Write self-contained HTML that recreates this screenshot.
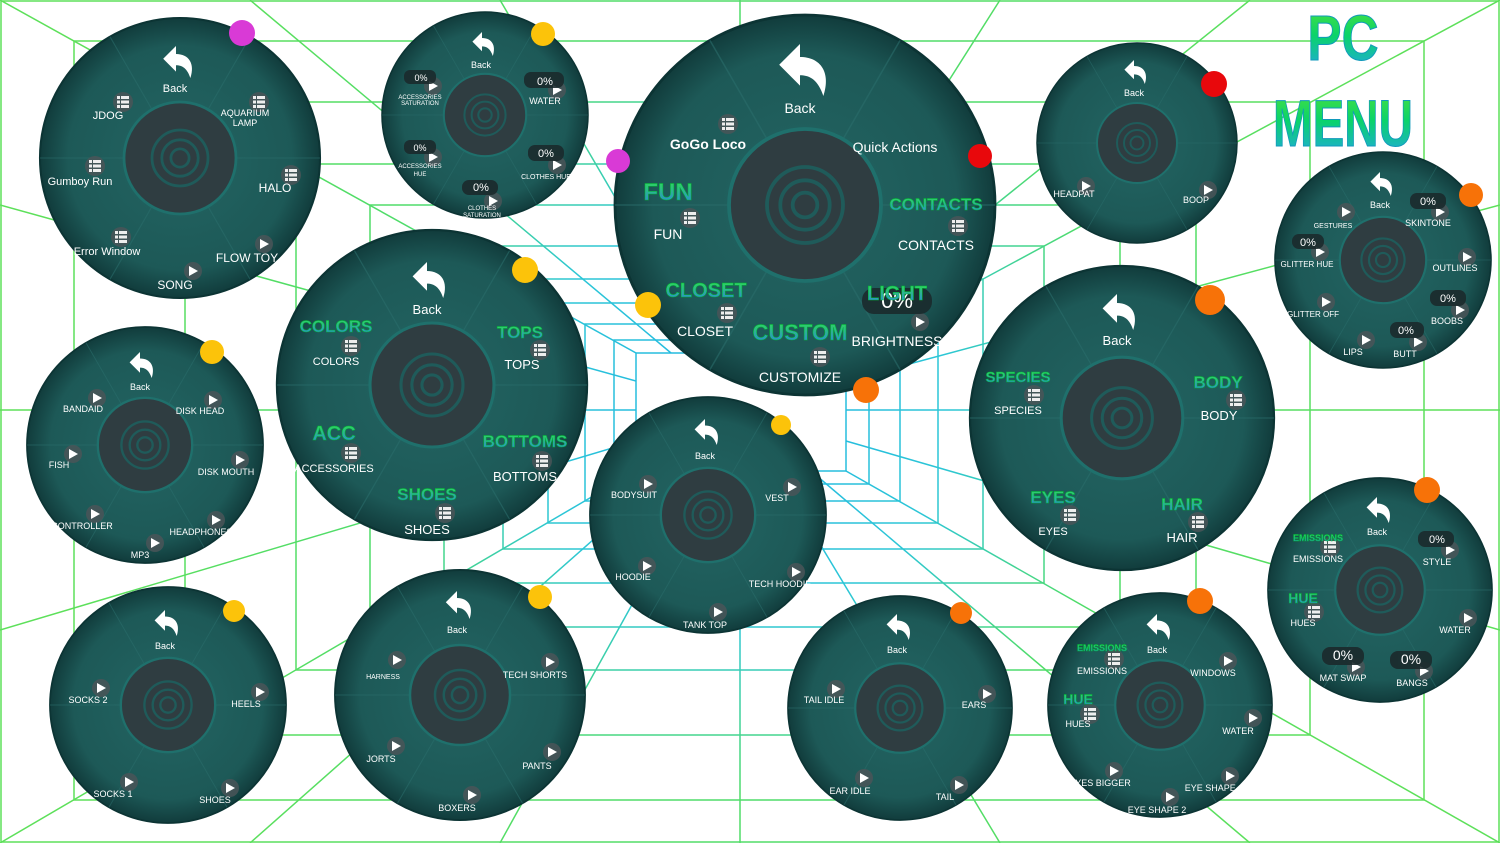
<!DOCTYPE html>
<html><head><meta charset="utf-8"><style>
html,body{margin:0;padding:0;background:#fff;}
svg{display:block;}
text{font-family:"Liberation Sans",sans-serif;fill:#fff;text-anchor:middle;}
.s{font-size:9px;}
.m{font-size:11px;}
.l{font-size:14px;}
.t{font-size:17px;font-weight:bold;fill:url(#tg);stroke:#0b3;stroke-width:.5;}
.gl line,.gl rect{stroke:url(#gg);stroke-width:1.5;fill:none;}
</style></head><body>
<svg width="1500" height="843" viewBox="0 0 1500 843" xmlns="http://www.w3.org/2000/svg">
<defs>
<radialGradient id="gg" gradientUnits="userSpaceOnUse" cx="740" cy="410" r="700">
<stop offset="0" stop-color="#1fb4e6"/><stop offset="0.3" stop-color="#2cc6d6"/><stop offset="0.55" stop-color="#4fdc6a"/><stop offset="1" stop-color="#5de05a"/>
</radialGradient>
<radialGradient id="og" cx="50%" cy="50%" r="50%">
<stop offset="0" stop-color="#236563"/><stop offset="0.8" stop-color="#1d5957"/><stop offset="1" stop-color="#113c3c"/>
</radialGradient>
<linearGradient id="tg" x1="0" y1="0" x2="0" y2="1"><stop offset="0" stop-color="#2ee04a"/><stop offset="1" stop-color="#2a7fe8"/></linearGradient>
<linearGradient id="pg" x1="0" y1="0" x2="0" y2="1"><stop offset="0" stop-color="#4ee23a"/><stop offset="0.45" stop-color="#0ad36a"/><stop offset="1" stop-color="#22a5ea"/></linearGradient>
<g id="w">
<circle r="1" fill="url(#og)" stroke="#0c3434" stroke-width="0.015"/>
<g stroke="#2a6d6b" stroke-width="0.008" opacity=".6">
<line x1="0" y1="-0.4" x2="0" y2="-1" transform="rotate(30)"/>
<line x1="0" y1="-0.4" x2="0" y2="-1" transform="rotate(-30)"/>
<line x1="0" y1="-0.4" x2="0" y2="-1" transform="rotate(90)"/>
<line x1="0" y1="-0.4" x2="0" y2="-1" transform="rotate(-90)"/>
<line x1="0" y1="-0.4" x2="0" y2="-1" transform="rotate(150)"/>
<line x1="0" y1="-0.4" x2="0" y2="-1" transform="rotate(-150)"/>
</g>
<circle r="0.4" fill="#2f3d41" stroke="#1f706c" stroke-width="0.02"/>
<g fill="none" stroke="#1f5b5a" stroke-width="0.02">
<circle r="0.2"/><circle r="0.13"/><circle r="0.065"/>
</g>
</g>
<g id="ic"><rect x="-9" y="-9" width="18" height="18" rx="9" fill="#4a5558" opacity=".85"/><path d="M-4,-5 L5,0 L-4,5Z" fill="#fff"/></g>
<g id="li"><rect x="-10" y="-10" width="20" height="20" rx="10" fill="#4a5558" opacity=".85"/><g fill="#eee"><rect x="-6" y="-6" width="3" height="3"/><rect x="-2" y="-6" width="8" height="3"/><rect x="-6" y="-1.5" width="3" height="3"/><rect x="-2" y="-1.5" width="8" height="3"/><rect x="-6" y="3" width="3" height="3"/><rect x="-2" y="3" width="8" height="3"/></g></g>
<g id="bk"><path d="M-8,-2 L0,-10 L0,-5 C8,-5 12,1 9,10 C7,4 4,2 0,2 L0,6Z" fill="#fff"/></g>
</defs>

<g class="gl">
<rect x="1" y="1" width="1498" height="841"/>
<rect x="74" y="41" width="1350" height="759"/>
<rect x="185" y="102" width="1125" height="633"/>
<rect x="296" y="164" width="900" height="506"/>
<rect x="370" y="205" width="750" height="422"/>
<rect x="444" y="246" width="600" height="337"/>
<rect x="503" y="279" width="480" height="270"/>
<rect x="548" y="303" width="390" height="220"/>
<rect x="585" y="324" width="315" height="177"/>
<rect x="614" y="340" width="255" height="144"/>
<rect x="636" y="353" width="210" height="118"/>
<line x1="0" y1="0" x2="636" y2="353"/><line x1="250" y1="0" x2="671" y2="353"/><line x1="500" y1="0" x2="706" y2="353"/>
<line x1="740" y1="0" x2="740" y2="353"/><line x1="1000" y1="0" x2="776" y2="353"/><line x1="1250" y1="0" x2="811" y2="353"/><line x1="1500" y1="0" x2="846" y2="353"/>
<line x1="0" y1="843" x2="636" y2="471"/><line x1="250" y1="843" x2="671" y2="471"/><line x1="500" y1="843" x2="706" y2="471"/>
<line x1="740" y1="843" x2="740" y2="471"/><line x1="1000" y1="843" x2="776" y2="471"/><line x1="1250" y1="843" x2="811" y2="471"/><line x1="1500" y1="843" x2="846" y2="471"/>
<line x1="0" y1="205" x2="636" y2="381"/><line x1="0" y1="410" x2="636" y2="410"/><line x1="0" y1="630" x2="636" y2="441"/>
<line x1="1500" y1="205" x2="846" y2="381"/><line x1="1500" y1="410" x2="846" y2="410"/><line x1="1500" y1="630" x2="846" y2="441"/>
</g>

<use href="#w" transform="translate(180,158) scale(140)"/>
<use href="#w" transform="translate(485,115) scale(103)"/>
<use href="#w" transform="translate(805,205) scale(190)"/>
<use href="#w" transform="translate(1137,143) scale(100)"/>
<use href="#w" transform="translate(1383,260) scale(108)"/>
<use href="#w" transform="translate(145,445) scale(118)"/>
<use href="#w" transform="translate(432,385) scale(155)"/>
<use href="#w" transform="translate(708,515) scale(118)"/>
<use href="#w" transform="translate(1122,418) scale(152)"/>
<use href="#w" transform="translate(1380,590) scale(112)"/>
<use href="#w" transform="translate(168,705) scale(118)"/>
<use href="#w" transform="translate(460,695) scale(125)"/>
<use href="#w" transform="translate(900,708) scale(112)"/>
<use href="#w" transform="translate(1160,705) scale(112)"/>

<use href="#bk" transform="translate(176,62) scale(1.6)"/>
<use href="#bk" transform="translate(482,44) scale(1.2)"/>
<use href="#bk" transform="translate(800,70) scale(2.6)"/>
<use href="#bk" transform="translate(1134,72) scale(1.2)"/>
<use href="#bk" transform="translate(1380,184) scale(1.2)"/>
<use href="#bk" transform="translate(140,365) scale(1.3)"/>
<use href="#bk" transform="translate(427,280) scale(1.8)"/>
<use href="#bk" transform="translate(705,432) scale(1.3)"/>
<use href="#bk" transform="translate(1117,312) scale(1.8)"/>
<use href="#bk" transform="translate(1377,510) scale(1.3)"/>
<use href="#bk" transform="translate(165,623) scale(1.3)"/>
<use href="#bk" transform="translate(457,605) scale(1.4)"/>
<use href="#bk" transform="translate(897,627) scale(1.3)"/>
<use href="#bk" transform="translate(1157,627) scale(1.3)"/>

<g>
<use href="#li" x="123" y="102"/><use href="#li" x="259" y="102"/><use href="#li" x="95" y="166"/><use href="#li" x="291" y="175"/><use href="#li" x="121" y="237"/><use href="#ic" x="264" y="244"/><use href="#ic" x="193" y="271"/>
<use href="#li" x="728" y="124"/><use href="#li" x="690" y="218"/><use href="#li" x="958" y="226"/><use href="#li" x="727" y="313"/><use href="#li" x="820" y="357"/><use href="#ic" x="920" y="322"/>
<use href="#ic" x="1086" y="186"/><use href="#ic" x="1208" y="190"/>
<use href="#li" x="351" y="346"/><use href="#li" x="540" y="350"/><use href="#li" x="351" y="453"/><use href="#li" x="542" y="461"/><use href="#li" x="445" y="513"/>
<use href="#li" x="1034" y="395"/><use href="#li" x="1236" y="400"/><use href="#li" x="1070" y="515"/><use href="#li" x="1198" y="522"/>
<use href="#ic" x="648" y="484"/><use href="#ic" x="792" y="487"/><use href="#ic" x="647" y="566"/><use href="#ic" x="796" y="572"/><use href="#ic" x="718" y="612"/>
<use href="#ic" x="97" y="398"/><use href="#ic" x="213" y="400"/><use href="#ic" x="73" y="454"/><use href="#ic" x="240" y="460"/><use href="#ic" x="95" y="514"/><use href="#ic" x="216" y="520"/><use href="#ic" x="155" y="543"/>
<use href="#ic" x="101" y="688"/><use href="#ic" x="260" y="692"/><use href="#ic" x="129" y="782"/><use href="#ic" x="230" y="788"/>
<use href="#ic" x="397" y="660"/><use href="#ic" x="550" y="662"/><use href="#ic" x="396" y="746"/><use href="#ic" x="552" y="752"/><use href="#ic" x="472" y="795"/>
<use href="#ic" x="836" y="689"/><use href="#ic" x="987" y="694"/><use href="#ic" x="864" y="778"/><use href="#ic" x="959" y="785"/>
<use href="#li" x="1114" y="659"/><use href="#ic" x="1228" y="661"/><use href="#li" x="1090" y="714"/><use href="#ic" x="1253" y="718"/><use href="#ic" x="1114" y="771"/><use href="#ic" x="1230" y="776"/><use href="#ic" x="1170" y="797"/>
<use href="#li" x="1330" y="547"/><use href="#ic" x="1450" y="550"/><use href="#li" x="1314" y="612"/><use href="#ic" x="1468" y="618"/><use href="#ic" x="1356" y="667"/><use href="#ic" x="1424" y="671"/>
<use href="#ic" x="1346" y="212"/><use href="#ic" x="1440" y="212"/><use href="#ic" x="1320" y="252"/><use href="#ic" x="1467" y="257"/><use href="#ic" x="1326" y="302"/><use href="#ic" x="1460" y="310"/><use href="#ic" x="1366" y="340"/><use href="#ic" x="1418" y="342"/>
<use href="#ic" x="433" y="86"/><use href="#ic" x="557" y="90"/><use href="#ic" x="433" y="157"/><use href="#ic" x="557" y="165"/><use href="#ic" x="493" y="201"/>
</g>

<g fill="#1b2a2c" opacity=".9">
<rect x="404" y="70" width="32" height="14" rx="6"/><rect x="524" y="72" width="40" height="16" rx="7"/>
<rect x="404" y="140" width="32" height="14" rx="6"/><rect x="528" y="145" width="36" height="16" rx="7"/>
<rect x="462" y="180" width="36" height="15" rx="7"/>
<rect x="862" y="288" width="70" height="26" rx="12"/>
<rect x="1410" y="193" width="36" height="16" rx="7"/><rect x="1292" y="234" width="32" height="15" rx="7"/>
<rect x="1430" y="290" width="36" height="16" rx="7"/><rect x="1390" y="322" width="34" height="16" rx="7"/>
<rect x="1418" y="531" width="36" height="16" rx="7"/><rect x="1322" y="647" width="42" height="18" rx="8"/><rect x="1390" y="651" width="42" height="18" rx="8"/>
</g>
<g class="m">
<text x="421" y="81" class="s">0%</text><text x="545" y="85">0%</text><text x="420" y="151" class="s">0%</text><text x="546" y="157">0%</text><text x="481" y="191">0%</text>
<text x="897" y="308" style="font-size:22px">0%</text>
<text x="1428" y="205">0%</text><text x="1308" y="246">0%</text><text x="1448" y="302">0%</text><text x="1406" y="334">0%</text>
<text x="1437" y="543">0%</text><text x="1343" y="660" class="l">0%</text><text x="1411" y="664" class="l">0%</text>
</g>

<text x="668" y="200" class="t" style="font-size:24px">FUN</text>
<text x="936" y="210" class="t" style="font-size:17px">CONTACTS</text>
<text x="706" y="297" class="t" style="font-size:20px">CLOSET</text>
<text x="800" y="340" class="t" style="font-size:22px">CUSTOM</text>
<text x="897" y="300" class="t" style="font-size:20px">LIGHT</text>
<text x="336" y="332" class="t">COLORS</text><text x="520" y="338" class="t">TOPS</text>
<text x="334" y="440" class="t" style="font-size:20px">ACC</text><text x="525" y="447" class="t">BOTTOMS</text><text x="427" y="500" class="t">SHOES</text>
<text x="1018" y="382" class="t" style="font-size:15px">SPECIES</text><text x="1218" y="388" class="t">BODY</text>
<text x="1053" y="503" class="t">EYES</text><text x="1182" y="510" class="t">HAIR</text>
<text x="1318" y="541" class="t" style="font-size:9px">EMISSIONS</text><text x="1303" y="603" class="t" style="font-size:14px">HUE</text>
<text x="1102" y="651" class="t" style="font-size:9px">EMISSIONS</text><text x="1078" y="704" class="t" style="font-size:14px">HUE</text>

<g class="m">
<text x="175" y="92">Back</text><text x="108" y="119">JDOG</text><text x="245" y="116" class="s">AQUARIUM</text><text x="245" y="126" class="s">LAMP</text>
<text x="80" y="185">Gumboy Run</text><text x="275" y="192" style="font-size:12px">HALO</text><text x="107" y="255">Error Window</text>
<text x="247" y="262" style="font-size:12px">FLOW TOY</text><text x="175" y="289" style="font-size:12px">SONG</text>

<text x="481" y="68" class="s">Back</text><text x="545" y="104" class="s">WATER</text>
<text x="420" y="99" style="font-size:6px">ACCESSORIES</text><text x="420" y="105" style="font-size:6px">SATURATION</text>
<text x="420" y="168" style="font-size:6px">ACCESSORIES</text><text x="420" y="176" style="font-size:6px">HUE</text>
<text x="546" y="179" style="font-size:7px">CLOTHES HUE</text><text x="482" y="210" style="font-size:6px">CLOTHES</text><text x="482" y="217" style="font-size:6px">SATURATION</text>

<text x="800" y="113" class="l">Back</text><text x="708" y="149" class="l" style="font-weight:bold">GoGo Loco</text><text x="895" y="152" class="l">Quick Actions</text>
<text x="668" y="239" class="l">FUN</text><text x="936" y="250" class="l">CONTACTS</text><text x="705" y="336" class="l">CLOSET</text>
<text x="897" y="346" class="l">BRIGHTNESS</text><text x="800" y="382" class="l">CUSTOMIZE</text>

<text x="1134" y="96" class="s">Back</text><text x="1074" y="197" class="s">HEADPAT</text><text x="1196" y="203" class="s">BOOP</text>

<text x="1380" y="208" class="s">Back</text><text x="1333" y="228" style="font-size:7px">GESTURES</text><text x="1428" y="226" class="s">SKINTONE</text>
<text x="1307" y="267" style="font-size:8px">GLITTER HUE</text><text x="1455" y="271" class="s">OUTLINES</text><text x="1313" y="317" style="font-size:8px">GLITTER OFF</text>
<text x="1447" y="324" class="s">BOOBS</text><text x="1353" y="355" class="s">LIPS</text><text x="1405" y="357" class="s">BUTT</text>

<text x="140" y="390" class="s">Back</text><text x="83" y="412" class="s">BANDAID</text><text x="200" y="414" class="s">DISK HEAD</text><text x="59" y="468" class="s">FISH</text>
<text x="226" y="475" class="s">DISK MOUTH</text><text x="82" y="529" class="s">CONTROLLER</text><text x="201" y="535" class="s">HEADPHONES</text><text x="140" y="558" class="s">MP3</text>

<text x="427" y="314" style="font-size:13px">Back</text><text x="336" y="365">COLORS</text><text x="522" y="369" style="font-size:13px">TOPS</text>
<text x="334" y="472">ACCESSORIES</text><text x="525" y="481" style="font-size:13px">BOTTOMS</text><text x="427" y="534" style="font-size:13px">SHOES</text>

<text x="705" y="459" class="s">Back</text><text x="634" y="498" class="s">BODYSUIT</text><text x="777" y="501" class="s">VEST</text>
<text x="633" y="580" class="s">HOODIE</text><text x="780" y="587" class="s">TECH HOODIE</text><text x="705" y="628" class="s">TANK TOP</text>

<text x="1117" y="345" style="font-size:13px">Back</text><text x="1018" y="414">SPECIES</text><text x="1219" y="420" style="font-size:13px">BODY</text>
<text x="1053" y="535">EYES</text><text x="1182" y="542" style="font-size:13px">HAIR</text>

<text x="1377" y="535" class="s">Back</text><text x="1318" y="562" class="s">EMISSIONS</text><text x="1437" y="565" class="s">STYLE</text>
<text x="1303" y="626" class="s">HUES</text><text x="1455" y="633" class="s">WATER</text><text x="1343" y="681" class="s">MAT SWAP</text><text x="1412" y="686" class="s">BANGS</text>

<text x="165" y="649" class="s">Back</text><text x="88" y="703" class="s">SOCKS 2</text><text x="246" y="707" class="s">HEELS</text>
<text x="113" y="797" class="s">SOCKS 1</text><text x="215" y="803" class="s">SHOES</text>

<text x="457" y="633" class="s">Back</text><text x="383" y="679" style="font-size:7px">HARNESS</text><text x="535" y="678" class="s">TECH SHORTS</text>
<text x="381" y="762" class="s">JORTS</text><text x="537" y="769" class="s">PANTS</text><text x="457" y="811" class="s">BOXERS</text>

<text x="897" y="653" class="s">Back</text><text x="824" y="703" class="s">TAIL IDLE</text><text x="974" y="708" class="s">EARS</text>
<text x="850" y="794" class="s">EAR IDLE</text><text x="945" y="800" class="s">TAIL</text>

<text x="1157" y="653" class="s">Back</text><text x="1102" y="674" class="s">EMISSIONS</text><text x="1213" y="676" class="s">WINDOWS</text>
<text x="1078" y="727" class="s">HUES</text><text x="1238" y="734" class="s">WATER</text><text x="1100" y="786" class="s">EYES BIGGER</text>
<text x="1214" y="791" class="s">EYE SHAPE 1</text><text x="1157" y="813" class="s">EYE SHAPE 2</text>
</g>

<g>
<circle cx="242" cy="33" r="13" fill="#d93ad6"/>
<circle cx="543" cy="34" r="12" fill="#fcc30a"/>
<circle cx="618" cy="161" r="12" fill="#d93ad6"/>
<circle cx="980" cy="156" r="12" fill="#e8080c"/>
<circle cx="648" cy="305" r="13" fill="#fcc30a"/>
<circle cx="866" cy="390" r="13" fill="#f77208"/>
<circle cx="1214" cy="84" r="13" fill="#e8080c"/>
<circle cx="1471" cy="195" r="12" fill="#f77208"/>
<circle cx="212" cy="352" r="12" fill="#fcc30a"/>
<circle cx="525" cy="270" r="13" fill="#fcc30a"/>
<circle cx="781" cy="425" r="10" fill="#fcc30a"/>
<circle cx="1210" cy="300" r="15" fill="#f77208"/>
<circle cx="1427" cy="490" r="13" fill="#f77208"/>
<circle cx="234" cy="611" r="11" fill="#fcc30a"/>
<circle cx="540" cy="597" r="12" fill="#fcc30a"/>
<circle cx="961" cy="613" r="11" fill="#f77208"/>
<circle cx="1200" cy="601" r="13" fill="#f77208"/>
</g>

<text x="1343" y="60" style="font-size:64px;font-weight:bold;fill:url(#pg);stroke:#19b;stroke-width:1" transform="translate(1343,0) scale(0.8,1) translate(-1343,0)">PC</text>
<text x="1343" y="146" style="font-size:66px;font-weight:bold;fill:url(#pg);stroke:#19b;stroke-width:1" transform="translate(1343,0) scale(0.72,1) translate(-1343,0)">MENU</text>
</svg>
</body></html>
